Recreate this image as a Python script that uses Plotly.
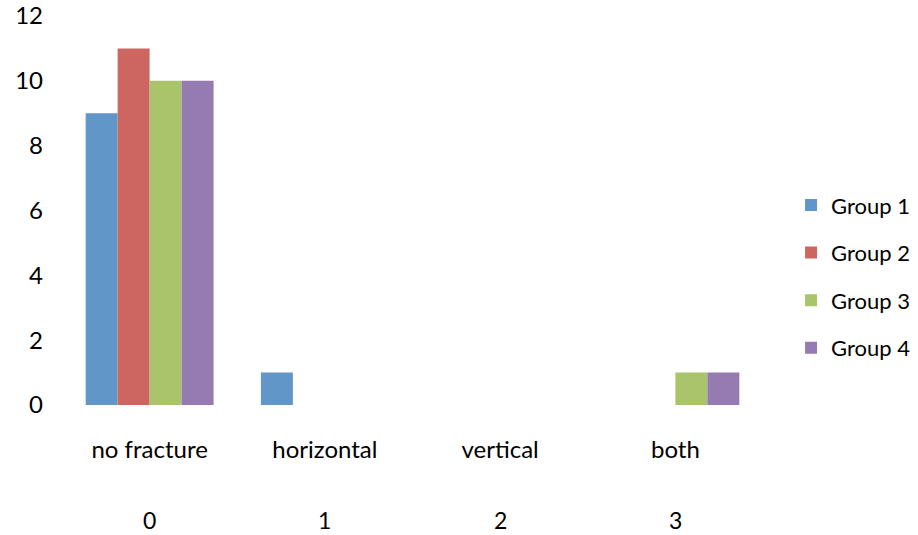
import plotly.graph_objects as go

categories = ["no fracture", "horizontal", "vertical", "both"]
codes = ["0", "1", "2", "3"]
groups = ["Group 1", "Group 2", "Group 3", "Group 4"]
values = {
    "Group 1": [9, 1, 0, 0],
    "Group 2": [11, 0, 0, 0],
    "Group 3": [10, 0, 0, 1],
    "Group 4": [10, 0, 0, 1],
}
colors = ["#6196c9", "#cd6660", "#aac46b", "#957bb2"]
yticks = [0, 2, 4, 6, 8, 10, 12]

FONT = "Lato, Open Sans, sans-serif"
xpos = list(range(len(categories)))

fig = go.Figure()
for i, g in enumerate(groups):
    fig.add_trace(go.Bar(
        x=xpos, y=values[g], name=g, marker_color=colors[i],
        marker_line_width=0, legendgroup=g,
    ))

for i, c in enumerate(codes):
    fig.add_annotation(x=xpos[i], y=-0.296, xref="x", yref="paper", yanchor="middle",
                       text=c, showarrow=False,
                       font=dict(family=FONT, size=23, color="#000"))

fig.update_layout(
    width=918, height=535,
    margin=dict(l=62, r=155, t=16, b=130, autoexpand=False),
    paper_bgcolor="white", plot_bgcolor="white",
    barmode="group", bargap=0.27, bargroupgap=0,
    font=dict(family=FONT, size=24, color="#000"),
    xaxis=dict(range=[-0.5, 3.5], tickvals=xpos, ticktext=categories,
               showgrid=False, zeroline=False, showline=False, ticks="",
               ticklabelstandoff=28, automargin=False),
    yaxis=dict(range=[0, 12], tickvals=yticks, showgrid=False, zeroline=False,
               showline=False, ticks="", ticklabelstandoff=18, automargin=False),
    legend=dict(x=1.04, y=0.33, yanchor="middle", xanchor="left",
                font=dict(family=FONT, size=22), traceorder="grouped",
                tracegroupgap=16, itemwidth=30),
    showlegend=True,
)

fig.write_html("out.html")
